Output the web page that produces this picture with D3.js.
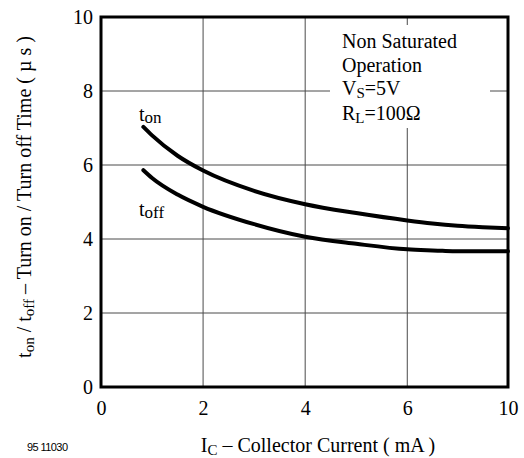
<!DOCTYPE html>
<html>
<head>
<meta charset="utf-8">
<script src="https://cdn.jsdelivr.net/npm/d3@7"></script>
</head>
<body style="margin:0; background:#fff">
<div id="chart-area"></div>
<script>
// datos
const currentOn = [0.83, 1, 1.5, 2, 3, 4, 5, 6, 7, 8, 9, 10];
const timeOn = [7.03, 6.8, 6.25, 5.85, 5.3, 4.94, 4.7, 4.5, 4.42, 4.36, 4.32, 4.29];
const currentOff = [0.83, 1, 1.5, 2, 3, 4, 5, 6, 7, 7.4, 8, 9, 10];
const timeOff = [5.86, 5.65, 5.2, 4.87, 4.4, 4.06, 3.87, 3.72, 3.69, 3.68, 3.67, 3.67, 3.67];
const xTicks = [0, 2, 4, 6, 10];
const yTicks = [0, 2, 4, 6, 8, 10];
const notes = ["Non Saturated", "Operation"];

const serif = "Liberation Serif";
const width = 524;
const height = 458;
const margin = { top: 17, right: 16, bottom: 71, left: 101 };
const w = width - margin.left - margin.right;
const h = height - margin.top - margin.bottom;

const svg = d3.select("#chart-area")
    .append("svg")
    .attr("width", width)
    .attr("height", height)
    .attr("font-family", serif);

const g = svg.append("g")
    .attr("transform", `translate(${margin.left},${margin.top})`);

// escala x: la ultima division va de 6 a 10
const x = d3.scaleLinear()
    .domain([0, 6, 10])
    .range([0, w * 0.7525, w]);

const y = d3.scaleLinear()
    .domain([0, 10])
    .range([h, 0]);

// rejilla
g.append("g")
    .selectAll("line")
    .data(xTicks.slice(1, -1))
    .enter().append("line")
    .attr("x1", d => x(d)).attr("x2", d => x(d))
    .attr("y1", 0).attr("y2", h)
    .attr("stroke", "#4a4a4a").attr("stroke-width", 1);

g.append("g")
    .selectAll("line")
    .data(yTicks.slice(1, -1))
    .enter().append("line")
    .attr("x1", 0).attr("x2", w)
    .attr("y1", d => y(d)).attr("y2", d => y(d))
    .attr("stroke", "#4a4a4a").attr("stroke-width", 1);

// caja blanca de la nota
g.append("rect")
    .attr("x", 229).attr("y", 8)
    .attr("width", 160).attr("height", 103)
    .attr("fill", "#fff");

// ejes
const bottomAxis = d3.axisBottom(x).tickValues(xTicks).tickSize(0).tickPadding(14);
g.append("g")
    .attr("transform", `translate(0,${h})`)
    .call(bottomAxis)
    .attr("font-family", serif)
    .attr("font-size", 20)
    .call(a => a.select(".domain").remove());

const leftAxis = d3.axisLeft(y).tickValues(yTicks).tickSize(0).tickPadding(8);
g.append("g")
    .call(leftAxis)
    .attr("font-family", serif)
    .attr("font-size", 20)
    .call(a => a.select(".domain").remove());

// marco
g.append("rect")
    .attr("x", 0).attr("y", 0)
    .attr("width", w).attr("height", h)
    .attr("fill", "none")
    .attr("stroke", "#000")
    .attr("stroke-width", 3);

// curvas
const line = d3.line()
    .x(d => x(d[0]))
    .y(d => y(d[1]))
    .curve(d3.curveMonotoneX);

g.append("path")
    .datum(d3.zip(currentOn, timeOn))
    .attr("d", line)
    .attr("fill", "none")
    .attr("stroke", "#000")
    .attr("stroke-width", 4)
    .attr("stroke-linecap", "round");

g.append("path")
    .datum(d3.zip(currentOff, timeOff))
    .attr("d", line)
    .attr("fill", "none")
    .attr("stroke", "#000")
    .attr("stroke-width", 4)
    .attr("stroke-linecap", "round");

// etiquetas de curvas
const onLabel = g.append("text").attr("x", 38).attr("y", 104).attr("font-size", 20);
onLabel.append("tspan").text("t");
onLabel.append("tspan").attr("font-size", 17).attr("dy", 2).text("on");

const offLabel = g.append("text").attr("x", 38).attr("y", 199).attr("font-size", 20);
offLabel.append("tspan").text("t");
offLabel.append("tspan").attr("font-size", 17).attr("dy", 2).text("off");

// nota
g.selectAll(".note")
    .data(notes)
    .enter().append("text")
    .attr("class", "note")
    .attr("x", 241)
    .attr("y", (d, i) => 31 + i * 24)
    .attr("font-size", 20)
    .text(d => d);

const vs = g.append("text").attr("x", 241).attr("y", 78).attr("font-size", 20);
vs.append("tspan").text("V");
vs.append("tspan").attr("font-size", 15).attr("dy", 3).text("S");
vs.append("tspan").attr("dy", -3).text("=5V");

const rl = g.append("text").attr("x", 241).attr("y", 103).attr("font-size", 20);
rl.append("tspan").text("R");
rl.append("tspan").attr("font-size", 15).attr("dy", 3).text("L");
rl.append("tspan").attr("dy", -3).text("=100Ω");

// titulo eje x
const xTitle = svg.append("text")
    .attr("x", 318).attr("y", 452)
    .attr("text-anchor", "middle")
    .attr("font-size", 20);
xTitle.append("tspan").text("I");
xTitle.append("tspan").attr("font-size", 15).attr("dy", 3).text("C");
xTitle.append("tspan").attr("dy", -3).text(" – Collector Current ( mA )");

// titulo eje y
const yTitle = svg.append("text")
    .attr("transform", "translate(31,197) rotate(-90)")
    .attr("text-anchor", "middle")
    .attr("font-size", 20);
yTitle.append("tspan").text("t");
yTitle.append("tspan").attr("font-size", 15).attr("dy", 3).text("on");
yTitle.append("tspan").attr("dy", -3).text(" / t");
yTitle.append("tspan").attr("font-size", 15).attr("dy", 3).text("off");
yTitle.append("tspan").attr("dy", -3).text("  – Turn on / Turn off Time ( µ s )");

svg.append("text")
    .attr("x", 27).attr("y", 451)
    .attr("font-family", "Liberation Sans")
    .attr("font-size", 11)
    .attr("textLength", 41)
    .text("95 11030");
</script>
</body>
</html>
